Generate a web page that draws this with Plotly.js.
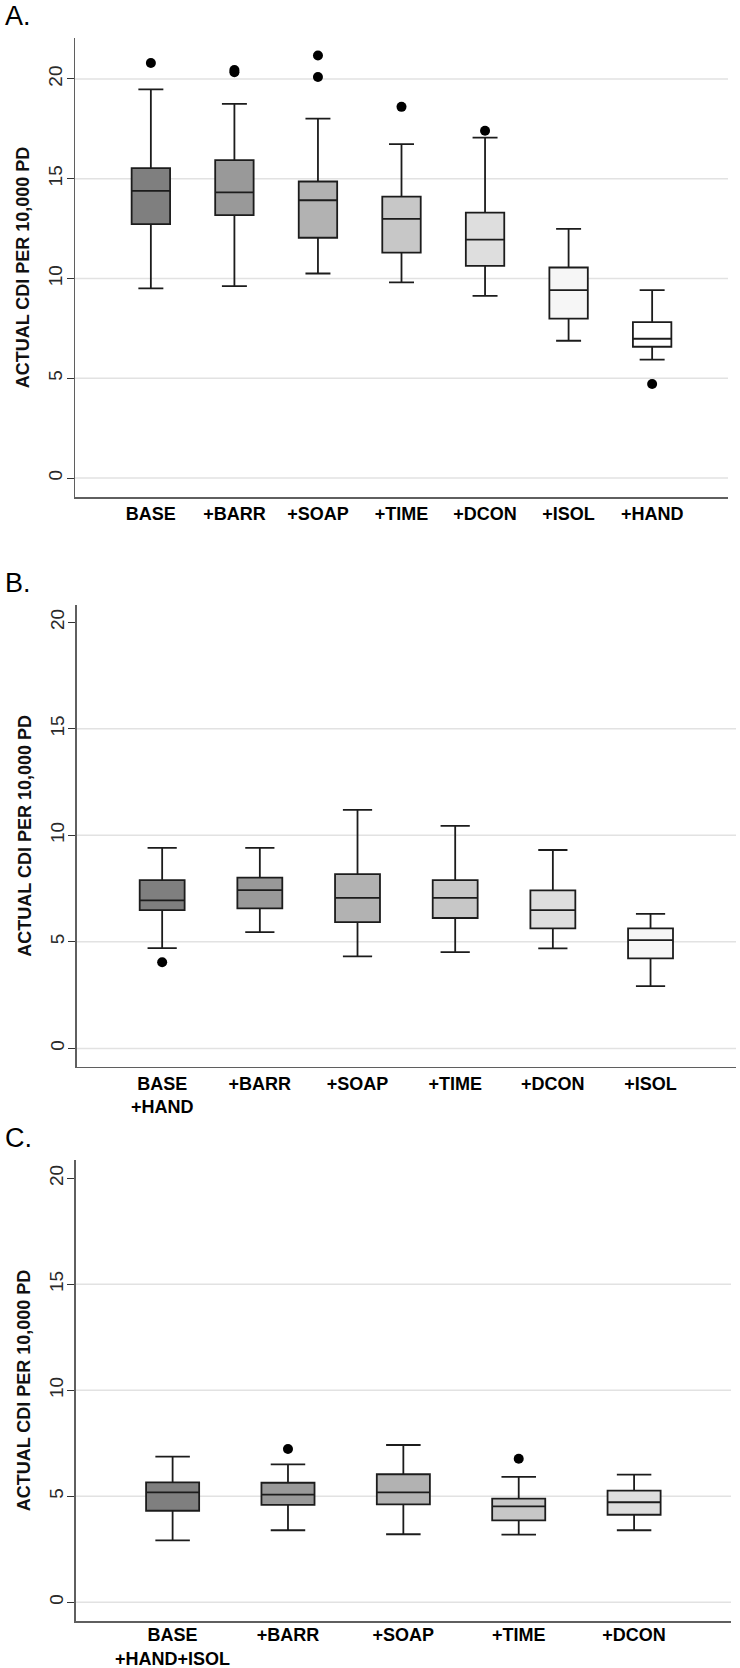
<!DOCTYPE html>
<html>
<head>
<meta charset="utf-8">
<script src="https://cdn.plot.ly/plotly-3.0.1.min.js"></script>
<style>html,body{margin:0;padding:0;background:#fff;}#chart{width:740px;height:1668px;}</style>
</head>
<body>
<div id="chart"></div>
<script>
// ---------- Data ----------
const catsA = ['BASE', '+BARR', '+SOAP', '+TIME', '+DCON', '+ISOL', '+HAND'];
const lowerA = [9.50, 9.62, 10.25, 9.80, 9.13, 6.88, 5.93];
const q1A    = [12.72, 13.17, 12.04, 11.30, 10.63, 7.99, 6.58];
const medA   = [14.39, 14.31, 13.92, 12.99, 11.95, 9.42, 6.98];
const q3A    = [15.53, 15.93, 14.86, 14.10, 13.30, 10.55, 7.81];
const upperA = [19.48, 18.75, 18.01, 16.73, 17.06, 12.49, 9.42];
const outXA  = ['BASE', '+BARR', '+BARR', '+SOAP', '+SOAP', '+TIME', '+DCON', '+HAND'];
const outYA  = [20.80, 20.33, 20.45, 21.17, 20.10, 18.60, 17.40, 4.71];

const catsB = ['BASE<br>+HAND', '+BARR', '+SOAP', '+TIME', '+DCON', '+ISOL'];
const lowerB = [4.71, 5.46, 4.32, 4.52, 4.69, 2.92];
const q1B    = [6.49, 6.57, 5.93, 6.12, 5.63, 4.22];
const medB   = [6.95, 7.43, 7.06, 7.06, 6.49, 5.08];
const q3B    = [7.90, 8.01, 8.18, 7.90, 7.42, 5.63];
const upperB = [9.41, 9.41, 11.19, 10.44, 9.31, 6.31];
const outXB  = ['BASE<br>+HAND'];
const outYB  = [4.04];

const catsC = ['BASE<br>+HAND+ISOL', '+BARR', '+SOAP', '+TIME', '+DCON'];
const lowerC = [2.92, 3.40, 3.21, 3.19, 3.40];
const q1C    = [4.32, 4.60, 4.62, 3.87, 4.13];
const medC   = [5.19, 5.08, 5.19, 4.53, 4.72];
const q3C    = [5.66, 5.64, 6.04, 4.89, 5.27];
const upperC = [6.87, 6.51, 7.42, 5.92, 6.02];
const outXC  = ['+BARR', '+TIME'];
const outYC  = [7.23, 6.77];

const tickVals = [0, 5, 10, 15, 20];
const gridA = [0, 5, 10, 15, 20];
const gridBC = [0, 5, 10, 15];
const panelLabels = ['A.', 'B.', 'C.'];
const yTitle = 'ACTUAL CDI PER 10,000 PD';

// ---------- Styling ----------
const fills = ['#7f7f7f', '#999999', '#b2b2b2', '#c7c7c7', '#dedede', '#f6f6f6', '#ffffff'];
const FONT = 'Liberation Sans, Arial, Helvetica, sans-serif';
const traces = [];

function addPanel(cats, lo, q1, med, q3, up, ox, oy, xa, ya) {
  cats.forEach((c, i) => {
    traces.push({
      type: 'box', x: [c], q1: [q1[i]], median: [med[i]], q3: [q3[i]],
      lowerfence: [lo[i]], upperfence: [up[i]],
      xaxis: xa, yaxis: ya, width: 0.46, whiskerwidth: 0.65,
      fillcolor: fills[i], line: {color: '#1c1c1c', width: 1.8},
      boxpoints: false, showlegend: false, hoverinfo: 'skip'
    });
  });
  traces.push({
    type: 'scatter', mode: 'markers', x: ox, y: oy, xaxis: xa, yaxis: ya,
    marker: {color: '#000', size: 10}, showlegend: false, hoverinfo: 'skip'
  });
}
addPanel(catsA, lowerA, q1A, medA, q3A, upperA, outXA, outYA, 'x', 'y');
addPanel(catsB, lowerB, q1B, medB, q3B, upperB, outXB, outYB, 'x2', 'y2');
addPanel(catsC, lowerC, q1C, medC, q3C, upperC, outXC, outYC, 'x3', 'y3');

const W = 740, H = 1668;
function xdom(l, r) { return [l / W, r / W]; }
function ydom(top, bot) { return [1 - bot / H, 1 - top / H]; }

function xaxisCfg(dom, rng, anchor, standoff) {
  return {
    domain: dom, range: rng, anchor: anchor, type: 'category',
    showline: true, linecolor: '#5f5f5f', linewidth: 1.5,
    showgrid: false, zeroline: false, ticks: '',
    ticklabelstandoff: standoff,
    tickfont: {family: FONT, size: 18, color: '#000', weight: 'bold'},
    fixedrange: true
  };
}
function yaxisCfg(dom, rng, anchor) {
  return {
    domain: dom, range: rng, anchor: anchor,
    showline: true, linecolor: '#5f5f5f', linewidth: 1.5,
    showgrid: false, zeroline: false,
    ticks: 'outside', ticklen: 7, tickwidth: 1, tickcolor: '#333',
    tickmode: 'array', tickvals: tickVals, ticktext: tickVals.map(String),
    tickangle: -90, ticklabelstandoff: -3,
    tickfont: {family: FONT, size: 19, color: '#2a2a2a'},
    title: {text: yTitle, font: {family: FONT, size: 18, color: '#111', weight: 'bold'}, standoff: 10},
    fixedrange: true
  };
}

const shapes = [];
function addGrid(vals, xref, yref) {
  vals.forEach(v => shapes.push({
    type: 'line', xref: xref + ' domain', yref: yref, x0: 0, x1: 1, y0: v, y1: v,
    line: {color: '#e2e2e2', width: 1.5}, layer: 'below'
  }));
}
addGrid(gridA, 'x', 'y');
addGrid(gridBC, 'x2', 'y2');
addGrid(gridBC, 'x3', 'y3');

const labelY = [16, 583, 1138];
const annotations = panelLabels.map((t, i) => ({
  text: t, xref: 'paper', yref: 'paper', x: 3 / W, y: 1 - labelY[i] / H,
  xanchor: 'left', yanchor: 'middle', showarrow: false,
  font: {family: FONT, size: 27, color: '#000'}
}));

const layout = {
  width: W, height: H, margin: {l: 0, r: 0, t: 0, b: 0},
  paper_bgcolor: '#fff', plot_bgcolor: 'rgba(0,0,0,0)',
  boxmode: 'overlay', showlegend: false,
  xaxis:  xaxisCfg(xdom(75, 728), [-0.908, 6.908], 'y', 0),
  yaxis:  yaxisCfg(ydom(38, 497), [-0.95, 22.05], 'x'),
  xaxis2: xaxisCfg(xdom(76.7, 736), [-0.875, 5.875], 'y2', 0),
  yaxis2: yaxisCfg(ydom(605, 1066.7), [-0.86, 20.81], 'x2'),
  xaxis3: xaxisCfg(xdom(75.7, 731), [-0.84, 4.84], 'y3', -3),
  yaxis3: yaxisCfg(ydom(1160, 1621), [-0.88, 20.86], 'x3'),
  shapes: shapes, annotations: annotations
};

Plotly.newPlot('chart', traces, layout, {displayModeBar: false, staticPlot: true});
</script>
</body>
</html>
